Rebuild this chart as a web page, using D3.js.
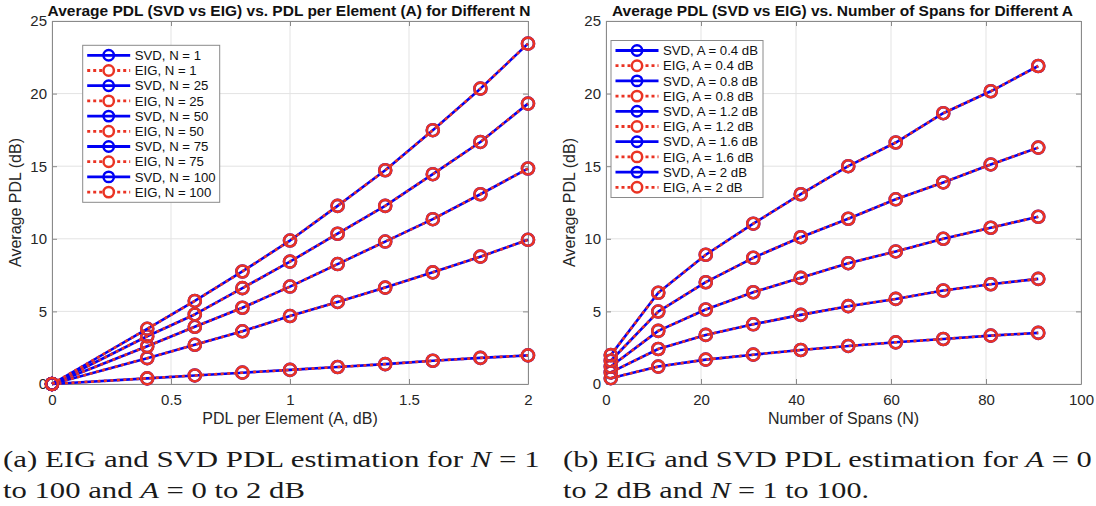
<!DOCTYPE html>
<html>
<head>
<meta charset="utf-8">
<script src="https://cdn.jsdelivr.net/npm/d3@7"></script>
<style>
  html, body { margin: 0; padding: 0; background: #fff; }
  svg { display: block; }
  .tick-label { font-family: "Liberation Sans", Arial, sans-serif; font-size: 15px; fill: #262626; }
  .axis-label { font-family: "Liberation Sans", Arial, sans-serif; font-size: 16px; fill: #262626; }
  .title { font-family: "Liberation Sans", Arial, sans-serif; font-size: 15.5px; font-weight: bold; fill: #111; }
  .legend-text { font-family: "Liberation Sans", Arial, sans-serif; font-size: 13.2px; fill: #111; }
  .caption { font-family: "Liberation Serif", "Times New Roman", serif; font-size: 24px; fill: #1a1a1a; }
</style>
</head>
<body>
<svg id="fig" width="1096" height="506"></svg>
<script>
// ---- Panel (a): average PDL vs. PDL per element A, one curve per span count N
const elementPdl = [0, 0.4, 0.6, 0.8, 1.0, 1.2, 1.4, 1.6, 1.8, 2.0];
const spanCounts = [1, 25, 50, 75, 100];
const svdN1   = [0, 0.39, 0.59, 0.78, 0.97, 1.17, 1.37, 1.60, 1.80, 1.97];
const svdN25  = [0, 1.78, 2.70, 3.63, 4.68, 5.65, 6.64, 7.69, 8.77, 9.93];
const svdN50  = [0, 2.60, 3.94, 5.25, 6.71, 8.26, 9.81, 11.35, 13.07, 14.84];
const svdN75  = [0, 3.29, 4.79, 6.60, 8.43, 10.35, 12.27, 14.45, 16.67, 19.31];
const svdN100 = [0, 3.80, 5.72, 7.75, 9.88, 12.27, 14.72, 17.48, 20.34, 23.44];
const eigN1   = [0, 0.39, 0.59, 0.78, 0.97, 1.17, 1.37, 1.60, 1.80, 1.97];
const eigN25  = [0, 1.78, 2.70, 3.63, 4.68, 5.65, 6.64, 7.69, 8.77, 9.93];
const eigN50  = [0, 2.60, 3.94, 5.25, 6.71, 8.26, 9.81, 11.35, 13.07, 14.84];
const eigN75  = [0, 3.29, 4.79, 6.60, 8.43, 10.35, 12.27, 14.45, 16.67, 19.31];
const eigN100 = [0, 3.80, 5.72, 7.75, 9.88, 12.27, 14.72, 17.48, 20.34, 23.44];
const leftXTicks = [0, 0.5, 1, 1.5, 2];
const leftYTicks = [0, 5, 10, 15, 20, 25];

// ---- Panel (b): average PDL vs. number of spans N, one curve per element PDL A
const spans = [1, 11, 21, 31, 41, 51, 61, 71, 81, 91];
const elementLevels = [0.4, 0.8, 1.2, 1.6, 2];
const svdA04 = [0.40, 1.20, 1.68, 2.02, 2.34, 2.62, 2.87, 3.10, 3.33, 3.52];
const svdA08 = [0.80, 2.41, 3.38, 4.11, 4.76, 5.36, 5.86, 6.44, 6.87, 7.24];
const svdA12 = [1.20, 3.66, 5.13, 6.32, 7.31, 8.32, 9.13, 10.00, 10.76, 11.52];
const svdA16 = [1.60, 4.99, 7.01, 8.69, 10.11, 11.38, 12.72, 13.88, 15.12, 16.28];
const svdA20 = [1.99, 6.28, 8.90, 11.04, 13.07, 15.00, 16.63, 18.65, 20.16, 21.90];
const eigA04 = [0.40, 1.20, 1.68, 2.02, 2.34, 2.62, 2.87, 3.10, 3.33, 3.52];
const eigA08 = [0.80, 2.41, 3.38, 4.11, 4.76, 5.36, 5.86, 6.44, 6.87, 7.24];
const eigA12 = [1.20, 3.66, 5.13, 6.32, 7.31, 8.32, 9.13, 10.00, 10.76, 11.52];
const eigA16 = [1.60, 4.99, 7.01, 8.69, 10.11, 11.38, 12.72, 13.88, 15.12, 16.28];
const eigA20 = [1.99, 6.28, 8.90, 11.04, 13.07, 15.00, 16.63, 18.65, 20.16, 21.90];
const rightXTicks = [0, 20, 40, 60, 80, 100];
const rightYTicks = [0, 5, 10, 15, 20, 25];

const BLUE = "#0000f5";
const RED = "#ea3323";

const svg = d3.select("#fig");

function drawPanel(cfg) {
  const { left, right, top, bottom } = cfg.box;
  const x = d3.scaleLinear().domain(cfg.xDomain).range([left, right]);
  const y = d3.scaleLinear().domain(cfg.yDomain).range([bottom, top]);
  const g = svg.append("g");

  // grid
  g.append("g").selectAll("line").data(cfg.xTicks).join("line")
    .attr("x1", d => x(d)).attr("x2", d => x(d)).attr("y1", top).attr("y2", bottom)
    .attr("stroke", "#e3e3e3").attr("stroke-width", 1);
  g.append("g").selectAll("line").data(cfg.yTicks).join("line")
    .attr("x1", left).attr("x2", right).attr("y1", d => y(d)).attr("y2", d => y(d))
    .attr("stroke", "#e3e3e3").attr("stroke-width", 1);

  // axes with inward ticks on all four sides
  const tickLen = 5;
  const axisColor = "#8a8a8a";
  const bottomAxis = g.append("g").attr("transform", `translate(0,${bottom})`)
    .call(d3.axisBottom(x).tickValues(cfg.xTicks).tickSizeInner(-tickLen).tickSizeOuter(0).tickPadding(10).tickFormat(cfg.xFormat));
  const leftAxis = g.append("g").attr("transform", `translate(${left},0)`)
    .call(d3.axisLeft(y).tickValues(cfg.yTicks).tickSizeInner(-tickLen).tickSizeOuter(0).tickPadding(10).tickFormat(d3.format("d")));
  const topAxis = g.append("g").attr("transform", `translate(0,${top})`)
    .call(d3.axisTop(x).tickValues(cfg.xTicks).tickSizeInner(-tickLen).tickSizeOuter(0).tickFormat(""));
  const rightAxis = g.append("g").attr("transform", `translate(${right},0)`)
    .call(d3.axisRight(y).tickValues(cfg.yTicks).tickSizeInner(-tickLen).tickSizeOuter(0).tickFormat(""));
  [bottomAxis, leftAxis, topAxis, rightAxis].forEach(a => {
    a.select(".domain").attr("stroke", axisColor).attr("stroke-width", 1);
    a.selectAll(".tick line").attr("stroke", axisColor).attr("stroke-width", 1);
    a.selectAll(".tick text").attr("class", "tick-label").attr("fill", null);
    a.attr("font-family", null).attr("font-size", null);
  });
  bottomAxis.selectAll(".tick text").attr("dy", "0.71em").attr("y", 10);
  leftAxis.selectAll(".tick text").attr("x", -5);

  // curves: SVD solid blue, EIG dotted red, drawn pair by pair
  const line = d3.line().x((d, i) => x(cfg.xs[i])).y(d => y(d));
  cfg.series.forEach(s => {
    const svdG = g.append("g");
    svdG.append("path").attr("d", line(s.svd)).attr("fill", "none")
      .attr("stroke", BLUE).attr("stroke-width", 2.6).attr("stroke-linejoin", "round");
    svdG.selectAll("circle").data(s.svd).join("circle")
      .attr("cx", (d, i) => x(cfg.xs[i])).attr("cy", d => y(d)).attr("r", 6)
      .attr("fill", "none").attr("stroke", BLUE).attr("stroke-width", 2.6);
    const eigG = g.append("g");
    eigG.append("path").attr("d", line(s.eig)).attr("fill", "none")
      .attr("stroke", RED).attr("stroke-width", 2.6).attr("stroke-dasharray", "3,3.5");
    eigG.selectAll("circle").data(s.eig).join("circle")
      .attr("cx", (d, i) => x(cfg.xs[i])).attr("cy", d => y(d)).attr("r", 6)
      .attr("fill", "none").attr("stroke", RED).attr("stroke-width", 2.6);
  });

  // titles and axis labels
  g.append("text").attr("class", "title").attr("x", (left + right) / 2 - 1).attr("y", 15.5)
    .attr("text-anchor", "middle").text(cfg.title);
  g.append("text").attr("class", "axis-label").attr("x", (left + right) / 2).attr("y", 424)
    .attr("text-anchor", "middle").text(cfg.xLabel);
  g.append("text").attr("class", "axis-label")
    .attr("transform", `translate(${left - 31},${(top + bottom) / 2}) rotate(-90)`)
    .attr("text-anchor", "middle").text(cfg.yLabel);

  // legend
  const L = cfg.legend;
  const rowH = 15.2;
  const lg = g.append("g");
  const entries = [];
  cfg.series.forEach(s => {
    entries.push({ label: `SVD, ${s.name}`, color: BLUE, dash: null });
    entries.push({ label: `EIG, ${s.name}`, color: RED, dash: "3,3" });
  });
  const boxH = entries.length * rowH + 5;
  lg.append("rect").attr("x", L.x).attr("y", L.y).attr("width", L.w).attr("height", boxH)
    .attr("fill", "#fff").attr("stroke", "#8a8a8a").attr("stroke-width", 1);
  entries.forEach((e, i) => {
    const cy = L.y + 10 + i * rowH;
    lg.append("line").attr("x1", L.x + 4.5).attr("x2", L.x + 47.5).attr("y1", cy).attr("y2", cy)
      .attr("stroke", e.color).attr("stroke-width", 2.8).attr("stroke-dasharray", e.dash);
    lg.append("circle").attr("cx", L.x + 26).attr("cy", cy).attr("r", 5.2)
      .attr("fill", e.dash ? "#fff" : "none").attr("stroke", e.color).attr("stroke-width", 2.5);
    lg.append("text").attr("class", "legend-text").attr("x", L.x + 52).attr("y", cy)
      .attr("dy", "0.35em").text(e.label);
  });
}

drawPanel({
  box: { left: 52, right: 528, top: 21, bottom: 384 },
  xDomain: [0, 2], yDomain: [0, 25],
  xTicks: leftXTicks, yTicks: leftYTicks,
  xFormat: d3.format("~g"),
  xs: elementPdl,
  series: [
    { name: `N = ${spanCounts[0]}`, svd: svdN1, eig: eigN1 },
    { name: `N = ${spanCounts[1]}`, svd: svdN25, eig: eigN25 },
    { name: `N = ${spanCounts[2]}`, svd: svdN50, eig: eigN50 },
    { name: `N = ${spanCounts[3]}`, svd: svdN75, eig: eigN75 },
    { name: `N = ${spanCounts[4]}`, svd: svdN100, eig: eigN100 }
  ],
  title: "Average PDL (SVD vs EIG) vs. PDL per Element (A) for Different N",
  xLabel: "PDL per Element (A, dB)",
  yLabel: "Average PDL (dB)",
  legend: { x: 82.7, y: 45.3, w: 137 }
});

drawPanel({
  box: { left: 606, right: 1081, top: 21, bottom: 384 },
  xDomain: [0, 100], yDomain: [0, 25],
  xTicks: rightXTicks, yTicks: rightYTicks,
  xFormat: d3.format("d"),
  xs: spans,
  series: [
    { name: `A = ${elementLevels[0]} dB`, svd: svdA04, eig: eigA04 },
    { name: `A = ${elementLevels[1]} dB`, svd: svdA08, eig: eigA08 },
    { name: `A = ${elementLevels[2]} dB`, svd: svdA12, eig: eigA12 },
    { name: `A = ${elementLevels[3]} dB`, svd: svdA16, eig: eigA16 },
    { name: `A = ${elementLevels[4]} dB`, svd: svdA20, eig: eigA20 }
  ],
  title: "Average PDL (SVD vs EIG) vs. Number of Spans for Different A",
  xLabel: "Number of Spans (N)",
  yLabel: "Average PDL (dB)",
  legend: { x: 611, y: 40.5, w: 152 }
});

// ---- sub-figure captions, each line stretched horizontally to its set width
function caption(x, y, width, parts) {
  const g = svg.append("g");
  const t = g.append("text").attr("class", "caption").attr("x", 0).attr("y", 0);
  parts.forEach(p => {
    t.append("tspan").attr("font-style", p.it ? "italic" : null).text(p.s);
  });
  const natural = t.node().getComputedTextLength();
  g.attr("transform", `translate(${x},${y}) scale(${width / natural},1)`);
}
caption(3, 467, 537, [{ s: "(a) EIG and SVD PDL estimation for " }, { s: "N", it: true }, { s: " = 1" }]);
caption(3, 498, 302, [{ s: "to 100 and " }, { s: "A", it: true }, { s: " = 0 to 2 dB" }]);
caption(563, 467, 529, [{ s: "(b) EIG and SVD PDL estimation for " }, { s: "A", it: true }, { s: " = 0" }]);
caption(563, 498, 306, [{ s: "to 2 dB and " }, { s: "N", it: true }, { s: " = 1 to 100." }]);
</script>
</body>
</html>
